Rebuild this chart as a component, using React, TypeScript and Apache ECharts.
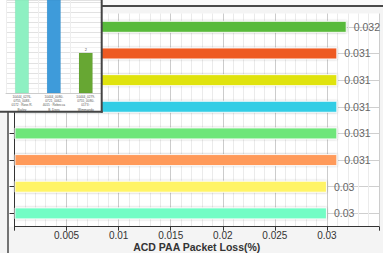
import React, { useEffect, useRef } from 'react';
import * as echarts from 'echarts';

// Main chart data (top to bottom)
const categories = ['Path 1', 'Path 2', 'Path 3', 'Path 4', 'Path 5', 'Path 6', 'Path 7', 'Path 8'];
const lossValues = [0.0319, 0.031, 0.031, 0.031, 0.031, 0.031, 0.03, 0.03];
const barColors = ['#58BA3B', '#EE5A24', '#E0E311', '#33CDE5', '#6EE67A', '#FF9A5A', '#FFF466', '#72FDC5'];
const xAxisName = 'ACD PAA Packet Loss(%)';

// Inset chart data
const insetCategories = [
  '10444_0276-\n0755_0083-\n0172 : Ross R.\nBailey',
  '10444_0080-\n0721_0062-\n4015 : Rebecca\nB. Dees',
  '10444_0279-\n0755_0080-\n0173 :\nWimmando',
];
const insetValues = [6, 6, 2];
const insetLabelShown = [false, false, true];
const insetColors = ['#8EF0C2', '#3E9BDA', '#67A733'];

const FONT = '"Liberation Sans", Arial, sans-serif';

export default function App() {
  const ref = useRef<HTMLDivElement>(null);
  useEffect(() => {
    if (!ref.current) return;
    const chart = echarts.init(ref.current, undefined, { renderer: 'svg' });
    const fmt = (v: number) => String(parseFloat(v.toFixed(3)));
    chart.setOption({
      animation: false,
      backgroundColor: '#f4f4f4',
      textStyle: { fontFamily: FONT },
      grid: [
        { left: 14.5, right: 4, top: 13.5, bottom: 26.3, outerBoundsMode: 'none', containLabel: false },
        { left: 6, right: 281.3, top: 0, bottom: 159.7, outerBoundsMode: 'none', containLabel: false },
      ],
      xAxis: [
        {
          type: 'value',
          gridIndex: 0,
          min: 0,
          max: 0.035,
          interval: 0.005,
          name: xAxisName,
          nameLocation: 'middle',
          nameGap: 14,
          nameMoveOverlap: false,
          nameTextStyle: { fontWeight: 'bold', fontSize: 10.5, lineHeight: 12, color: '#333', fontFamily: FONT },
          axisLine: { show: true, lineStyle: { color: '#333', width: 1 } },
          axisTick: { show: true, length: 4, lineStyle: { color: '#333' } },
          axisLabel: {
            color: '#333',
            fontSize: 10,
            margin: 4,
            fontFamily: FONT,
            formatter: (v: number) => (v <= 0 || v >= 0.0349 ? '' : fmt(v)),
          },
          splitLine: { show: true, lineStyle: { color: '#cccccc', width: 1 } },
          minorTick: { show: false, splitNumber: 5 },
          minorSplitLine: { show: true, lineStyle: { color: '#ebebeb', width: 1 } },
        },
        {
          type: 'category',
          gridIndex: 1,
          data: insetCategories,
          z: 20,
          axisLine: { show: true, lineStyle: { color: '#cccccc' } },
          axisTick: { show: false },
          axisLabel: { interval: 0, fontSize: 3.2, lineHeight: 4.3, color: '#555', margin: 1, fontFamily: FONT },
          splitLine: { show: true, lineStyle: { color: '#eeeeee' } },
        },
      ],
      yAxis: [
        {
          type: 'category',
          gridIndex: 0,
          inverse: true,
          data: categories,
          axisLine: { show: true, lineStyle: { color: '#333' } },
          axisTick: { show: true, alignWithLabel: true, length: 5, lineStyle: { color: '#333' } },
          axisLabel: { show: false },
          splitLine: { show: true, alignWithLabel: true, lineStyle: { color: '#cfcfcf' } },
        },
        {
          type: 'value',
          gridIndex: 1,
          min: 0,
          max: 4.6,
          interval: 0.5,
          z: 20,
          axisLine: { show: false },
          axisTick: { show: false },
          axisLabel: { show: false },
          splitLine: { show: true, lineStyle: { color: '#e2e2e2' } },
          minorTick: { show: false, splitNumber: 2 },
          minorSplitLine: { show: true, lineStyle: { color: '#f1f1f1' } },
        },
      ],
      series: [
        {
          type: 'bar',
          xAxisIndex: 0,
          yAxisIndex: 0,
          barWidth: 12,
          z: 2,
          data: lossValues.map((v, i) => ({ value: v, itemStyle: { color: barColors[i] } })),
          itemStyle: {
            borderColor: 'rgba(255,255,255,0.9)',
            borderWidth: 1,
            shadowColor: 'rgba(0,0,0,0.3)',
            shadowBlur: 2,
          },
          label: {
            show: true,
            position: 'right',
            distance: 7,
            color: '#666',
            fontSize: 10.5,
            fontFamily: FONT,
            formatter: (p: any) => fmt(p.value),
          },
        },
        {
          type: 'bar',
          xAxisIndex: 1,
          yAxisIndex: 1,
          barWidth: 14,
          z: 21,
          clip: true,
          data: insetValues.map((v, i) => ({
            value: v,
            itemStyle: { color: insetColors[i] },
            label: { show: insetLabelShown[i] },
          })),
          itemStyle: { borderColor: 'rgba(0,0,0,0.08)', borderWidth: 0.5 },
          label: {
            show: true,
            position: 'top',
            distance: 1,
            fontSize: 4,
            color: '#555',
            fontFamily: FONT,
          },
        },
      ],
      graphic: [
        { type: 'rect', z: -1, shape: { x: 0, y: 0, width: 383, height: 5 }, style: { fill: '#fafafa' } },
        { type: 'rect', z: -1, shape: { x: 9, y: 13.5, width: 370.5, height: 213.2 }, style: { fill: '#ffffff' } },
        { type: 'line', z: 5, shape: { x1: 8, y1: 6, x2: 383, y2: 6 }, style: { stroke: '#4a4a4a', lineWidth: 2 } },
        { type: 'line', z: 5, shape: { x1: 8, y1: 6, x2: 8, y2: 253 }, style: { stroke: '#4a4a4a', lineWidth: 1.5 } },
        { type: 'rect', z: 15, shape: { x: 0, y: 0, width: 101, height: 111 }, style: { fill: '#ffffff' } },
        { type: 'line', z: 25, shape: { x1: 101.7, y1: 0, x2: 101.7, y2: 112.7 }, style: { stroke: '#444', lineWidth: 2 } },
        { type: 'line', z: 25, shape: { x1: 0, y1: 111.7, x2: 102.7, y2: 111.7 }, style: { stroke: '#444', lineWidth: 2 } },
      ],
    });
    return () => chart.dispose();
  }, []);
  return <div ref={ref} style={{ position: 'fixed', left: 0, top: 0, width: 383, height: 253 }} />;
}
